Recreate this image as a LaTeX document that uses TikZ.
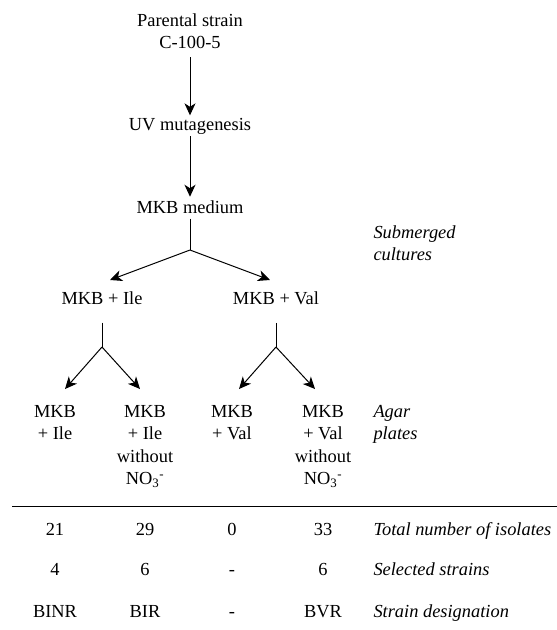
\documentclass[tikz,border=0pt]{standalone}
\usepackage{fontspec}
\setmainfont{Liberation Serif}
\usetikzlibrary{arrows.meta}

\tikzset{
  txt/.style={inner sep=0pt, anchor=base, align=center},
  side/.style={inner sep=0pt, anchor=base west, align=left, font=\fontsize{18.4}{22.5}\selectfont\itshape},
  arr/.style={-{Stealth[length=12pt,width=11pt,inset=3.5pt]}},
}

\begin{document}
\begin{tikzpicture}[x=1pt, y=-1pt, line width=1pt,
  every node/.style={font=\fontsize{18.4}{22.5}\selectfont}]
\useasboundingbox (0,0) rectangle (557,630);

% main line (multi-line nodes sit on their last baseline)
\node[txt] (parent) at (190,48.5) {Parental strain\\C-100-5};
\node[txt] (uv) at (190,130) {UV mutagenesis};
\node[txt] (medium) at (190,213) {MKB medium};
\node[txt] (ile) at (102,304) {MKB + Ile};
\node[txt] (val) at (276,304) {MKB + Val};

% agar plates
\node[txt] (plIle) at (55,439.5) {MKB\\+ Ile};
\node[txt] (plIleN) at (145,484.5) {MKB\\+ Ile\\without\\NO\textsubscript{3}\textsuperscript{-}};
\node[txt] (plVal) at (232,439.5) {MKB\\+ Val};
\node[txt] (plValN) at (323,484.5) {MKB\\+ Val\\without\\NO\textsubscript{3}\textsuperscript{-}};

% labels on the right
\node[side] (sub) at (373,260.5) {Submerged\\cultures};
\node[side] (agar) at (373,439.5) {Agar\\plates};

\coordinate (fork) at (190,250);
\coordinate (forkIle) at (102,347);
\coordinate (forkVal) at (276,347);
\coordinate (tipIle) at (110,280);
\coordinate (tipVal) at (270,280);
\coordinate (tip1) at (65,389);
\coordinate (tip2) at (140,389);
\coordinate (tip3) at (239,389);
\coordinate (tip4) at (315,389);

\draw[arr, shorten <=8pt, shorten >=2pt] (parent) -- (uv);
\draw[arr, shorten <=2pt, shorten >=3pt] (uv) -- (medium);
\draw[shorten <=5pt] (medium.south) -- (fork);
\draw[arr] (fork) -- (tipIle);
\draw[arr] (fork) -- (tipVal);
\draw[shorten <=18pt] (ile.south) -- (forkIle);
\draw[shorten <=18pt] (val.south) -- (forkVal);
\draw[arr] (forkIle) -- (tip1);
\draw[arr] (forkIle) -- (tip2);
\draw[arr] (forkVal) -- (tip3);
\draw[arr] (forkVal) -- (tip4);

% table
\coordinate (ruleL) at (12,506);
\coordinate (ruleR) at (557,506);
\draw (ruleL) -- (ruleR);
\foreach \x/\a/\b/\c [count=\i] in {55/21/4/BINR, 145/29/6/BIR, 232/0/-/-, 323/33/6/BVR} {
  \node[txt] (tot\i) at (\x,535) {\a};
  \node[txt] (sel\i) at (\x,575) {\b};
  \node[txt] (des\i) at (\x,617) {\c};
}
\node[side] (totLbl) at (373,535) {Total number of isolates};
\node[side] (selLbl) at (373,575) {Selected strains};
\node[side] (desLbl) at (373,617) {Strain designation};
\end{tikzpicture}
\end{document}
